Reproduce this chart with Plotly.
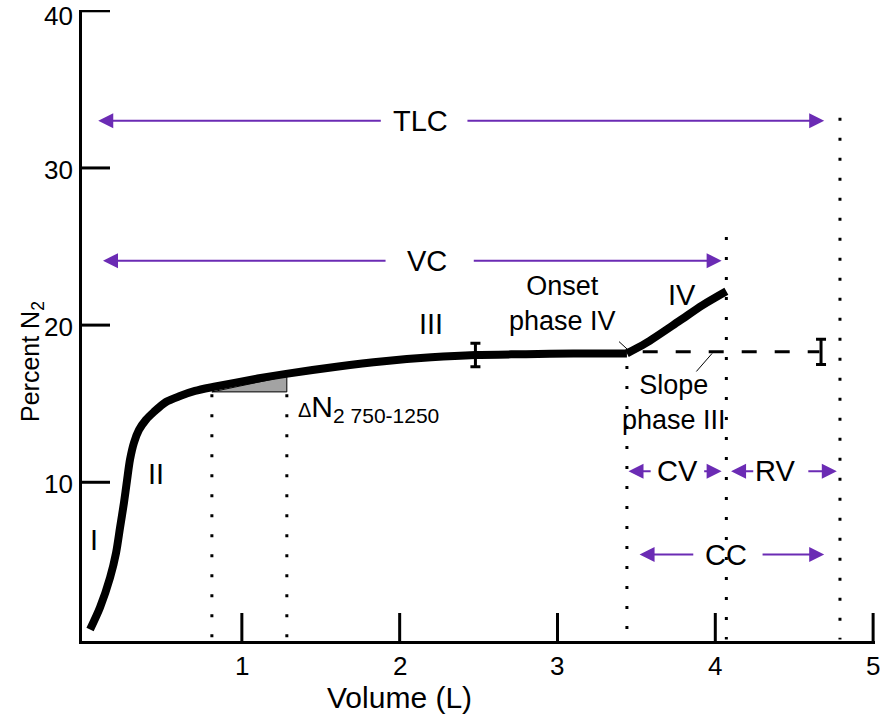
import plotly.graph_objects as go

# ---- data ----
volume = [0.038, 0.101, 0.165, 0.203, 0.228, 0.253, 0.272, 0.291, 0.316, 0.348,
          0.392, 0.443, 0.519, 0.608, 0.703, 0.816, 1.10, 1.28, 1.60, 1.90,
          2.20, 2.48, 2.80, 3.10, 3.44,
          3.56, 3.77, 3.92, 4.07]
n2 = [0.63, 2.03, 3.94, 5.52, 7.11, 8.70, 10.10, 11.43, 12.51, 13.33,
      13.97, 14.48, 15.11, 15.49, 15.81, 16.06, 16.6, 16.9, 17.35, 17.7,
      17.95, 18.1, 18.15, 18.2, 18.2,
      18.85, 20.25, 21.27, 22.15]
onset_index = 24  # phase IV starts here (3.44 L)

slope_x = [3.54, 4.66]
slope_y = [18.3, 18.3]

err_x = [2.48, 4.67]
err_y = [18.1, 18.3]
err_half = [0.75, 0.8]

tri_x = [0.81, 1.285, 1.285, 0.81]
tri_y = [15.75, 15.75, 16.75, 15.75]

dotted_x = [0.81, 1.285, 3.44, 4.07, 4.79]
dotted_top = [15.6, 15.6, 17.4, 25.6, 33.2]

# arrows: (level, tail, tip)
arrow_segments = [
    (33.0, 1.89, 0.09), (33.0, 2.42, 4.69),      # TLC
    (24.1, 1.92, 0.12), (24.1, 2.46, 4.04),      # VC
    (10.7, 3.60, 3.45), (10.7, 3.92, 4.04),      # CV
    (10.7, 4.25, 4.10), (10.7, 4.58, 4.77),      # RV
    (5.4, 3.87, 3.52), (5.4, 4.29, 4.69),        # CC
]
arrow_labels = [("TLC", 2.13, 33.0), ("VC", 2.17, 24.1), ("CV", 3.76, 10.7),
                ("RV", 4.38, 10.7), ("CC", 4.07, 5.4)]

phase_labels = [("I", 0.06, 6.3), ("II", 0.455, 10.5), ("III", 2.2, 20.1),
                ("IV", 3.79, 21.9)]

x_ticks = [1, 2, 3, 4, 5]
x_tick_text = ["1", "2", "3", "4", "5"]
y_ticks = [10, 20, 30, 40]
y_tick_text = ["10", "20", "30", "40"]

PURPLE = "#6b2bb4"
FONT = "Liberation Sans, Arial, Helvetica, sans-serif"
LBL = 29

W, H = 880, 721
ML, MR, MT, MB = 82, 5, 10, 80
pw, ph = W - ML - MR, H - MT - MB


def py(p):  # window pixel row -> paper y
    return (H - MB - p) / ph


def px(p):  # window pixel column -> paper x
    return (p - ML) / pw


fig = go.Figure()

# shaded triangle
fig.add_trace(go.Scatter(x=tri_x, y=tri_y, mode="lines", fill="toself",
                         fillcolor="#a3a3a3", line=dict(color="black", width=1),
                         hoverinfo="skip", showlegend=False))

# dotted verticals
for xv, top in zip(dotted_x, dotted_top):
    fig.add_trace(go.Scatter(x=[xv, xv], y=[top, 0], mode="lines",
                             line=dict(color="black", width=3, dash="3px,17px"),
                             hoverinfo="skip", showlegend=False))

# dashed slope line
fig.add_trace(go.Scatter(x=slope_x, y=slope_y, mode="lines",
                         line=dict(color="black", width=3, dash="15px,18px"),
                         hoverinfo="skip", showlegend=False))

# main curve (phases I-III, then phase IV)
fig.add_trace(go.Scatter(x=volume[:onset_index + 1], y=n2[:onset_index + 1], mode="lines",
                         line=dict(color="black", width=8, shape="spline", smoothing=0.8),
                         hoverinfo="skip", showlegend=False))
fig.add_trace(go.Scatter(x=volume[onset_index:], y=n2[onset_index:], mode="lines",
                         line=dict(color="black", width=8, shape="spline", smoothing=0.8),
                         hoverinfo="skip", showlegend=False))

# error-bar markers
fig.add_trace(go.Scatter(x=err_x, y=err_y, mode="markers",
                         marker=dict(size=1, color="black"),
                         error_y=dict(type="data", array=err_half, color="black",
                                      thickness=3, width=5),
                         hoverinfo="skip", showlegend=False))

annotations = []
for level, tail, tip in arrow_segments:
    annotations.append(dict(x=tip, y=level, ax=tail, ay=level, xref="x", yref="y",
                            axref="x", ayref="y", text="", showarrow=True,
                            arrowhead=2, arrowsize=1.5, arrowwidth=2,
                            arrowcolor=PURPLE))
for txt, xv, yv in arrow_labels + phase_labels:
    annotations.append(dict(x=xv, y=yv, xref="x", yref="y", text=txt, showarrow=False,
                            font=dict(size=LBL, color="black", family=FONT)))

annotations.append(dict(x=3.03, y=21.4, xref="x", yref="y", text="Onset<br>phase IV",
                        showarrow=False, align="center",
                        font=dict(size=27, color="black", family=FONT)))
annotations.append(dict(x=3.74, y=15.1, xref="x", yref="y", text="Slope<br>phase III",
                        showarrow=False, align="center",
                        font=dict(size=27, color="black", family=FONT)))
annotations.append(dict(x=1.34, y=14.7, xref="x", yref="y", xanchor="left",
                        text="<span style='font-size:20px'>Δ</span>N<sub>2 750-1250</sub>",
                        showarrow=False,
                        font=dict(size=30, color="black", family=FONT)))

# tick labels (drawn as text so the end ticks are kept)
for v, t in zip(x_ticks, x_tick_text):
    annotations.append(dict(x=v, y=py(666), xref="x", yref="paper", yanchor="middle",
                            text=t, showarrow=False,
                            font=dict(size=26, color="black", family=FONT)))
for v, t in zip(y_ticks, y_tick_text):
    annotations.append(dict(x=px(74), y=v, xref="paper", yref="y", xanchor="right",
                            yshift=-5 if v == max(y_ticks) else -2,
                            text=t, showarrow=False, borderpad=0,
                            font=dict(size=26, color="black", family=FONT)))

# axis titles
annotations.append(dict(x=2.0, y=py(697), xref="x", yref="paper", yanchor="middle",
                        text="Volume (L)", showarrow=False,
                        font=dict(size=30, color="black", family=FONT)))
annotations.append(dict(x=px(14), y=py(362), xref="paper", yref="paper",
                        text="Percent N<sub>2</sub>", textangle=-90, showarrow=False,
                        font=dict(size=25, color="black", family=FONT)))

shapes = [
    # leader lines
    dict(type="line", xref="x", yref="y", x0=3.39, y0=18.95, x1=3.455, y1=18.35,
         line=dict(color="black", width=1)),
    dict(type="line", xref="x", yref="y", x0=3.98, y0=18.2, x1=3.88, y1=17.05,
         line=dict(color="black", width=1)),
]
# tick marks (inside)
for v in x_ticks:
    shapes.append(dict(type="line", xref="x", yref="paper", x0=v, x1=v,
                       y0=0, y1=28 / ph, line=dict(color="black", width=3)))
for v in y_ticks:
    shapes.append(dict(type="line", xref="paper", yref="y", x0=0, x1=28 / pw,
                       y0=v, y1=v, line=dict(color="black", width=3)))

fig.update_layout(
    width=W, height=H,
    margin=dict(l=ML, r=MR, t=MT, b=MB),
    paper_bgcolor="white", plot_bgcolor="white",
    annotations=annotations, shapes=shapes,
    font=dict(family=FONT, color="black"),
    xaxis=dict(range=[-0.013, 5.012], showticklabels=False, ticks="",
               showline=True, linewidth=3, linecolor="black",
               showgrid=False, zeroline=False, automargin=False),
    yaxis=dict(range=[-0.1, 40.05], showticklabels=False, ticks="",
               showline=True, linewidth=3, linecolor="black",
               showgrid=False, zeroline=False, automargin=False),
)

fig.write_html(
    "out.html",
    config={"displayModeBar": False},
    post_script="document.body.style.margin='0';"
                "document.documentElement.style.overflow='hidden';",
)
